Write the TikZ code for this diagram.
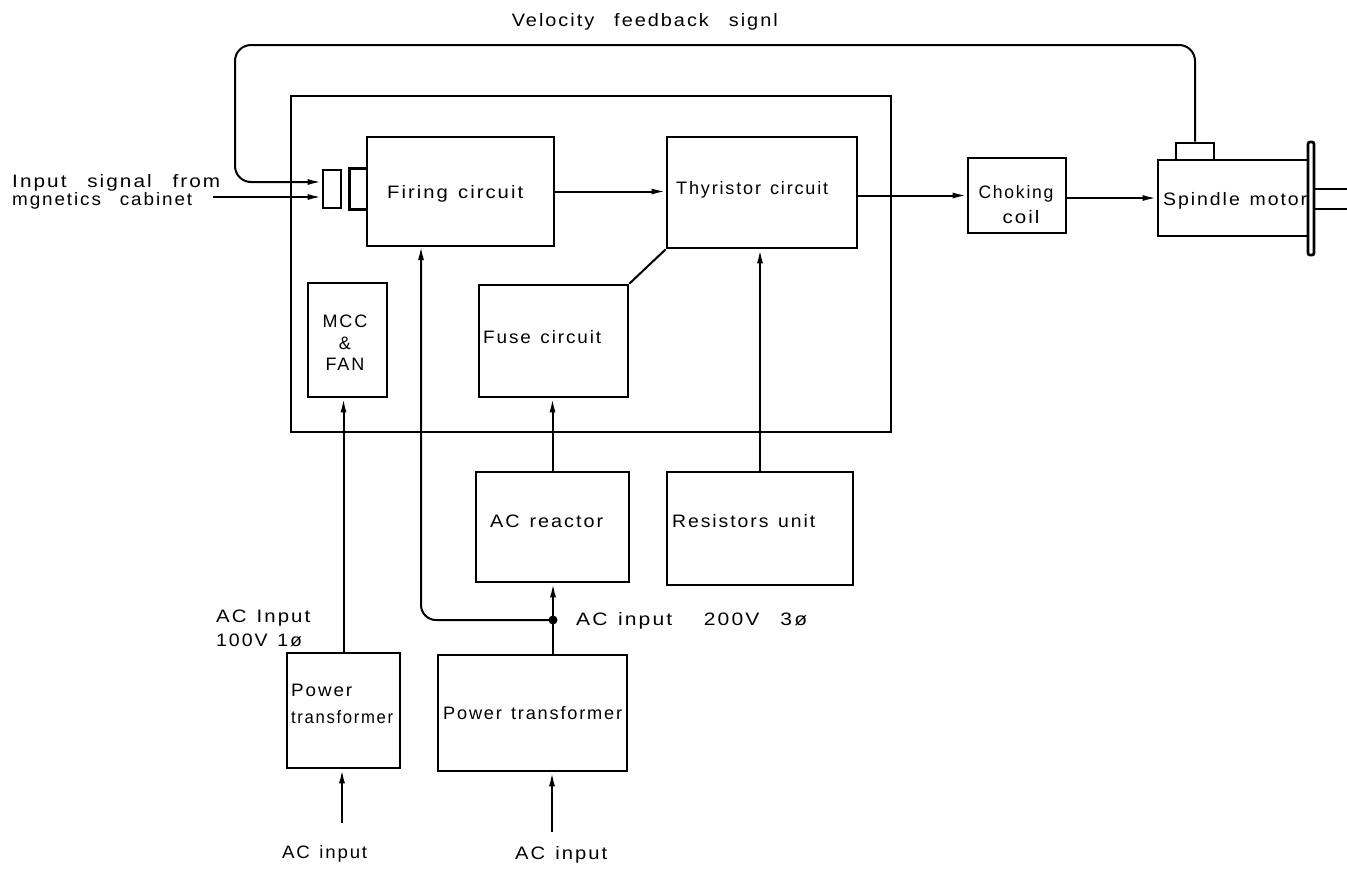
\documentclass[tikz,border=0pt]{standalone}
\usepackage{fontspec}
\usepackage{graphicx}
\setmainfont{Liberation Sans}[LetterSpace=10]
\usetikzlibrary{arrows.meta}
\newcommand\tw[2]{\resizebox{#1pt}{\height}{#2}}
\begin{document}
\begin{tikzpicture}[x=1pt,y=-1pt,
  box/.style={draw, line width=2.7pt, inner sep=0pt},
  wire/.style={line width=2pt},
  arr/.style={wire, -{Latex[length=14pt,width=6pt]}},
  lbl/.style={inner sep=0pt, font=\fontsize{18}{22}\selectfont},
]
\useasboundingbox (0,0) rectangle (1347,868);

% boxes
\node[box, minimum width=600pt, minimum height=336pt] (cab) at (591,264) {};
\node[box, minimum width=18pt, minimum height=38pt] (rect1) at (332,189) {};
\node[box, minimum width=187pt, minimum height=109pt] (firing) at (460.5,191.5) {};
\node[box, minimum width=190pt, minimum height=111pt] (thy) at (762,192.5) {};
\node[box, minimum width=98pt, minimum height=75pt] (choke) at (1017,195.5) {};
\node[box, minimum width=150pt, minimum height=76pt] (spindle) at (1233,198) {};
\node[box, minimum width=38pt, minimum height=17pt] (bump) at (1195,151.5) {};
\node[box, minimum width=6pt, minimum height=113pt, rounded corners=2pt] (flange) at (1311,198.5) {};
\node[box, minimum width=79pt, minimum height=114pt] (mcc) at (347.5,340) {};
\node[box, minimum width=149pt, minimum height=112pt] (fuse) at (553.5,341) {};
\node[box, minimum width=153pt, minimum height=110pt] (reactor) at (552.5,527) {};
\node[box, minimum width=186pt, minimum height=113pt] (resist) at (760,528.5) {};
\node[box, minimum width=113pt, minimum height=115pt] (pts) at (343.5,710.5) {};
\node[box, minimum width=189pt, minimum height=116pt] (ptb) at (532.5,713) {};

% bracket on firing circuit
\draw[box] (rect1.north -| firing.west) -- ++(-16,0) |- (rect1.south -| firing.west);

% shaft
\coordinate (sh1) at (1347,189);
\coordinate (sh2) at (1347,209);
\draw[wire] (flange.east |- sh1) -- (sh1);
\draw[wire] (flange.east |- sh2) -- (sh2);

% labels
\node[lbl, anchor=east] (title) at (778,22) {\tw{266}{Velocity\quad feedback\quad signl}};
\node[lbl, anchor=west] (inp1) at (12,183) {\tw{208}{Input\quad signal\quad from}};
\node[lbl, anchor=west] (inp2) at (12,201) {\tw{180}{mgnetics\quad cabinet}};
\node[lbl, anchor=west] (firingt) at (387,194) {\tw{136}{Firing\enspace circuit}};
\node[lbl, anchor=west] (thyt) at (676,190) {\tw{152}{Thyristor\enspace circuit}};
\node[lbl, align=center, font=\fontsize{18}{25}\selectfont] (choket) at (1016,204.5) {\tw{75}{Choking}\\\hspace*{10pt}\tw{37}{coil}};
\node[lbl, anchor=west] (spindlet) at (1163,201) {\tw{144}{Spindle\enspace motor}};
\node[lbl, align=center, font=\fontsize{18}{21.5}\selectfont] (mcct) at (345,343) {MCC\\\&\\FAN};
\node[lbl, anchor=west] (fuset) at (483,337) {\tw{118}{Fuse\enspace circuit}};
\node[lbl, anchor=west] (reactort) at (490,521) {\tw{113}{AC\enspace reactor}};
\node[lbl, anchor=west] (resistt) at (672,521) {\tw{143}{Resistors\enspace unit}};
\node[lbl, anchor=west, align=left, font=\fontsize{18}{27}\selectfont] (ptst) at (291,703.5) {\tw{61}{Power}\\\tw{102}{transformer}};
\node[lbl, anchor=west] (ptbt) at (443,713) {\tw{179}{Power\enspace transformer}};
\node[lbl, anchor=west, align=left, font=\fontsize{18}{24}\selectfont] (ac100) at (216,628) {\tw{94}{AC\enspace Input}\\\tw{86}{100V\enspace 1ø}};
\node[lbl, anchor=west] (ac200) at (576,621) {\tw{231}{AC\enspace input\quad\enspace 200V\quad 3ø}};
\node[lbl, anchor=west] (aci1t) at (282,854) {\tw{85}{AC\enspace input}};
\node[lbl, anchor=west] (aci2t) at (515,855) {\tw{92}{AC\enspace input}};

% connectors
\coordinate (fbL) at (235,45);
\coordinate (fbR) at (1195,45);
\draw[arr, rounded corners=16pt] (bump.north) -- (fbR) -- (fbL) -- (235,182) -- ([yshift=7pt]rect1.west);
\coordinate (inS) at (213,197);
\draw[arr] (inS) -- ([yshift=-8pt]rect1.west);

\draw[arr] (firing.east) -- (firing.east -| thy.west);
\draw[arr] (thy.east |- choke.west) -- (choke.west);
\draw[arr] (choke.east |- spindle.west) -- (spindle.west);
\draw[wire] (fuse.north east) -- (thy.south west);
\draw[arr] (reactor.north) -- (reactor.north |- fuse.south);
\draw[arr] (resist.north) -- (resist.north |- thy.south);

\coordinate (jn) at (553,620);
\coordinate (fb) at (421,246);
\draw[wire] (jn |- ptb.north) -- (jn);
\draw[arr] (jn) -- (jn |- reactor.south);
\draw[arr, rounded corners=15pt] (jn) -| (fb);
\fill (jn) circle (4.5pt);

\draw[arr] (pts.north) -- (pts.north |- mcc.south);

\coordinate (aci1) at (342,823);
\coordinate (aci2) at (552,832);
\draw[arr] (aci1) -- (aci1 |- pts.south);
\draw[arr] (aci2) -- (aci2 |- ptb.south);
\end{tikzpicture}
\end{document}
